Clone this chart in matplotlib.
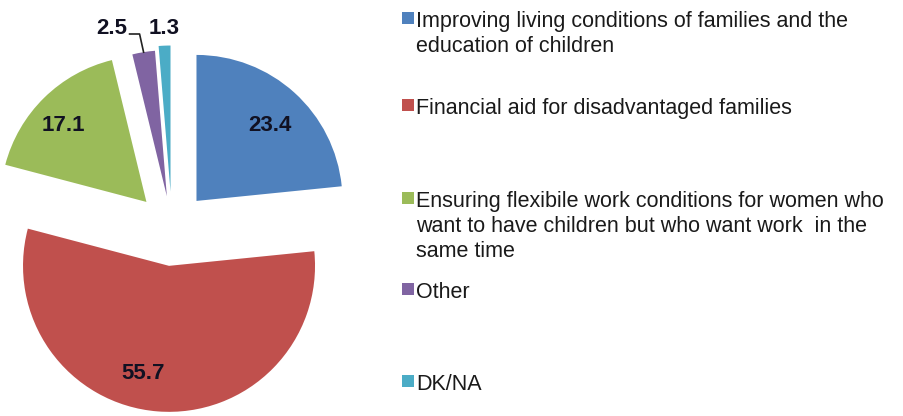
import matplotlib.pyplot as plt
import numpy as np

# survey answers (percent)
categories = [
    "Improving living conditions of families and the\neducation of children",
    "Financial aid for disadvantaged families",
    "Ensuring flexibile work conditions for women who\nwant to have children but who want work  in the\nsame time",
    "Other",
    "DK/NA",
]
values = [23.4, 55.7, 17.1, 2.5, 1.3]
colors = ["#4F81BD", "#C0504D", "#9BBB59", "#8064A2", "#4BACC6"]
explode = [0.25, 0.26, 0.25, 0.22, 0.25]

W, H = 904, 416
fig = plt.figure(figsize=(W / 100, H / 100), dpi=100)
ax = fig.add_axes([0, 0, 1, 1])

# work in pixel units, y measured upward
cx, cy, R = 172, H - 228, 146
wedges, _ = ax.pie(values, colors=colors, explode=[e * R for e in explode],
                   startangle=90, counterclock=False, center=(cx, cy),
                   radius=R, wedgeprops=dict(linewidth=0))
ax.set_xlim(0, W)
ax.set_ylim(0, H)
ax.set_aspect("equal")
ax.axis("off")

lab_font = dict(family="Liberation Sans", fontsize=16, fontweight="bold",
                color="#111122", ha="center", va="center")

# value labels for the three large wedges: (distance, angle shift)
lab_pos = [(0.72, -2), (0.76, -9), (0.77, 3)]
for w, v, (r, da) in zip(wedges[:3], values[:3], lab_pos):
    ang = np.deg2rad((w.theta1 + w.theta2) / 2 + da)
    x0, y0 = w.center
    ax.text(x0 + r * R * np.cos(ang), y0 + r * R * np.sin(ang),
            f"{v:.1f}", **lab_font)

# small wedges get labels above the pie
w = wedges[3]
ang = np.deg2rad((w.theta1 + w.theta2) / 2)
x0, y0 = w.center
tip = (x0 + R * np.cos(ang), y0 + R * np.sin(ang))
ly = H - 28
ax.plot([tip[0], tip[0] - 4, tip[0] - 14], [tip[1], ly - 6, ly - 6],
        color="#222222", lw=1.2)
ax.text(112, ly, f"{values[3]:.1f}", **lab_font)
ax.text(164, ly, f"{values[4]:.1f}", **lab_font)

# legend, one baseline per line
leg_base = [27, 114, 207, 298, 390]
leg_font = dict(family="Liberation Sans", fontsize=15.5, color="#1a1a1a",
                va="baseline")
for c, txt, y in zip(colors, categories, leg_base):
    ax.add_patch(plt.Rectangle((402, H - y + 3), 12, 12, color=c, lw=0))
    for i, line in enumerate(txt.split("\n")):
        ax.text(416, H - y - 25 * i, line, **leg_font)

fig.savefig("out.png", dpi=100)
